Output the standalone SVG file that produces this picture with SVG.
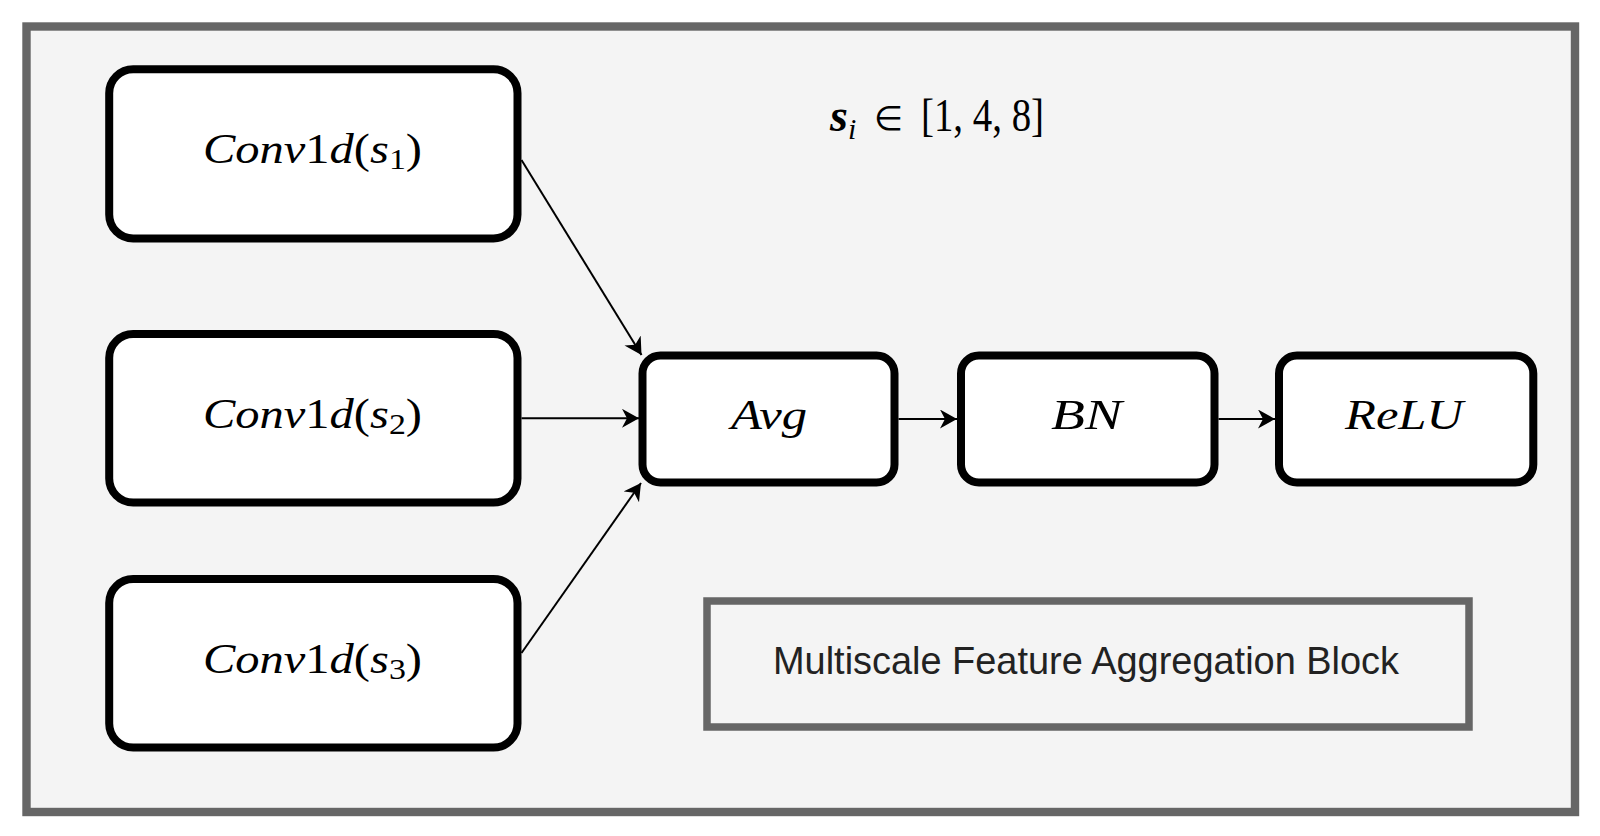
<svg xmlns="http://www.w3.org/2000/svg" width="1600" height="836" viewBox="0 0 1600 836">
<style>
.node{fill:#ffffff;stroke:#000000;stroke-width:8}
.math{font-family:"Liberation Serif","Times New Roman",serif;font-size:43px;fill:#000}
.it{font-style:italic}
.sub{font-size:30px;font-style:normal}
.conn{stroke:#000;stroke-width:2;fill:none;marker-end:url(#arr)}
</style>
<defs>
<marker id="arr" markerUnits="userSpaceOnUse" markerWidth="18" markerHeight="20" refX="17" refY="9.5" orient="auto">
<path d="M0,0 L17,9.5 L0,19 L5,9.5 Z" fill="#000"/>
</marker>
</defs>
<rect x="0" y="0" width="1600" height="836" fill="#ffffff"/>
<g id="frame">
<rect x="26.5" y="26.5" width="1548.5" height="785.5" fill="#f4f4f4" stroke="#666666" stroke-width="8.4"/>
</g>
<g id="formula">
<text class="math" x="830" y="131" style="font-size:46px"><tspan class="it" font-weight="bold">s</tspan><tspan class="it" dy="8" style="font-size:30px">i</tspan></text>
<text x="874" y="130" style="font-family:'DejaVu Sans',sans-serif;font-size:34px;fill:#000" textLength="29" lengthAdjust="spacingAndGlyphs">∈</text>
<text class="math" x="921" y="131" style="font-size:46px" textLength="123" lengthAdjust="spacingAndGlyphs">[1, 4, 8]</text>
</g>
<g id="conv1">
<rect class="node" x="109.2" y="69.2" width="408.3" height="169.2" rx="24"/>
<text class="math" x="203" y="163" textLength="219" lengthAdjust="spacingAndGlyphs"><tspan class="it">Conv</tspan>1<tspan class="it">d</tspan>(<tspan class="it">s</tspan><tspan class="sub" dy="6">1</tspan><tspan dy="-6">)</tspan></text>
</g>
<g id="conv2">
<rect class="node" x="109.2" y="334" width="408.3" height="168.5" rx="24"/>
<text class="math" x="203" y="428" textLength="219" lengthAdjust="spacingAndGlyphs"><tspan class="it">Conv</tspan>1<tspan class="it">d</tspan>(<tspan class="it">s</tspan><tspan class="sub" dy="6">2</tspan><tspan dy="-6">)</tspan></text>
</g>
<g id="conv3">
<rect class="node" x="109.2" y="579" width="408.3" height="168.5" rx="24"/>
<text class="math" x="203" y="673" textLength="219" lengthAdjust="spacingAndGlyphs"><tspan class="it">Conv</tspan>1<tspan class="it">d</tspan>(<tspan class="it">s</tspan><tspan class="sub" dy="6">3</tspan><tspan dy="-6">)</tspan></text>
</g>
<g id="avg">
<rect class="node" x="642.5" y="355.5" width="252" height="127" rx="18"/>
<text class="math it" x="731" y="429" textLength="76" lengthAdjust="spacingAndGlyphs">Avg</text>
</g>
<g id="bn">
<rect class="node" x="961" y="355.5" width="253.5" height="127" rx="18"/>
<text class="math it" x="1051" y="429" textLength="71" lengthAdjust="spacingAndGlyphs">BN</text>
</g>
<g id="relu">
<rect class="node" x="1279" y="355.5" width="254.3" height="127" rx="18"/>
<text class="math it" x="1345" y="429" textLength="118" lengthAdjust="spacingAndGlyphs">ReLU</text>
</g>
<g id="label">
<rect x="707" y="601" width="762" height="126" fill="#f4f4f4" stroke="#666666" stroke-width="7.5"/>
<text x="773" y="674" textLength="626" lengthAdjust="spacingAndGlyphs" style="font-family:'Liberation Sans',Arial,sans-serif;font-size:39px;fill:#222">Multiscale Feature Aggregation Block</text>
</g>
<g id="connectors">
<line class="conn" x1="521.5" y1="160" x2="641.5" y2="355"/>
<line class="conn" x1="521.5" y1="418.3" x2="639" y2="418.3"/>
<line class="conn" x1="521.5" y1="653" x2="641" y2="483"/>
<line class="conn" x1="898.5" y1="419" x2="957" y2="419"/>
<line class="conn" x1="1218.5" y1="419" x2="1275" y2="419"/>
</g>
</svg>
